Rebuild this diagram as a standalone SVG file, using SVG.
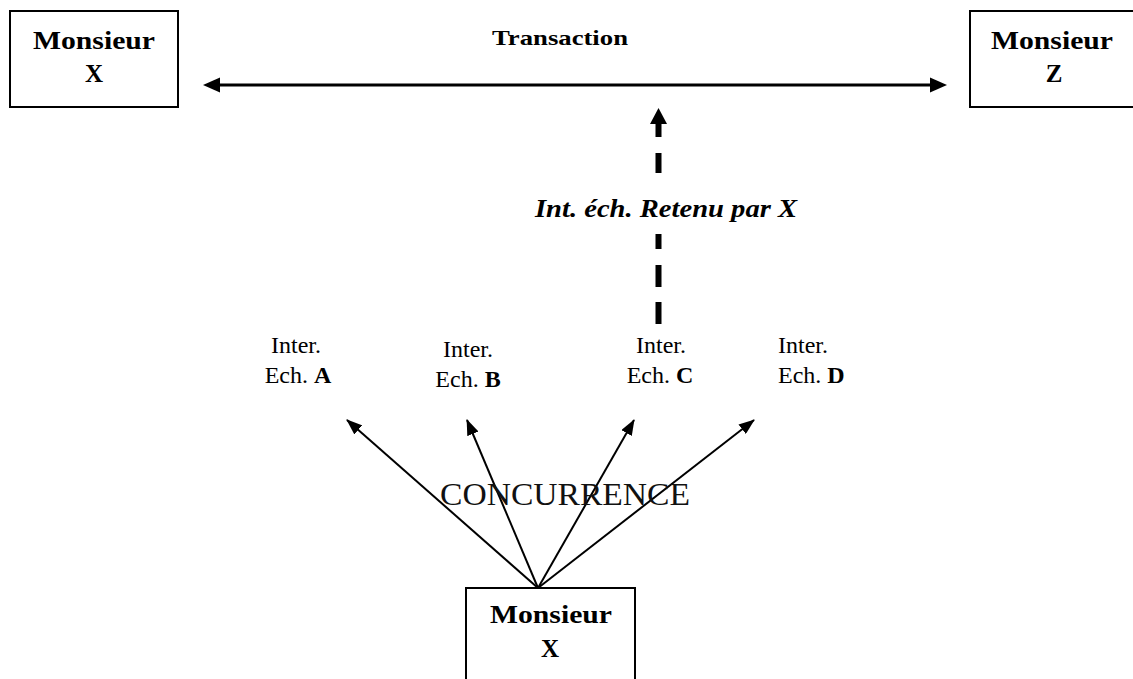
<svg xmlns="http://www.w3.org/2000/svg" width="1133" height="679" viewBox="0 0 1133 679">
<style>
.box{fill:#fff;stroke:#000;stroke-width:2}
.bt{font-family:"Liberation Serif",serif;font-weight:bold;font-size:25px;text-anchor:middle;fill:#000}
.lbl{font-family:"Liberation Serif",serif;font-size:24px;text-anchor:middle;fill:#000}
.conn{stroke:#000;fill:none}
.head{fill:#000}
</style>
<defs>
<marker id="ah" viewBox="0 0 16 12" refX="15" refY="6" markerWidth="16" markerHeight="12" markerUnits="userSpaceOnUse" orient="auto">
<path d="M0,0 L16,6 L0,12 Z" fill="#000"/>
</marker>
</defs>
<rect width="1133" height="679" fill="#fff"/>

<g id="connectors">
<g id="transaction-arrow">
<line class="conn" x1="218" y1="85" x2="932" y2="85" stroke-width="3"/>
<polygon class="head" points="203,85 220,77.5 220,92.5"/>
<polygon class="head" points="947,85 930,77.5 930,92.5"/>
</g>
<g id="dashed-arrow" class="head">
<polygon points="658.5,108 667,124 650,124"/>
<rect x="655.5" y="123" width="6" height="14"/>
<rect x="655.5" y="153" width="6" height="20"/>
<rect x="655.5" y="234" width="6" height="15"/>
<rect x="655.5" y="265" width="6" height="22"/>
<rect x="655.5" y="302" width="6" height="22"/>
</g>
<line class="conn" x1="538" y1="588" x2="347" y2="420" stroke-width="2" marker-end="url(#ah)"/>
<line class="conn" x1="538" y1="588" x2="467" y2="420" stroke-width="2" marker-end="url(#ah)"/>
<line class="conn" x1="538" y1="588" x2="634" y2="420" stroke-width="2" marker-end="url(#ah)"/>
<line class="conn" x1="538" y1="588" x2="754" y2="420" stroke-width="2" marker-end="url(#ah)"/>
</g>

<g id="monsieur-x-top">
<rect class="box" x="10" y="11" width="168" height="96"/>
<text class="bt" x="94" y="49" textLength="122" lengthAdjust="spacingAndGlyphs">Monsieur</text>
<text class="bt" x="94" y="82">X</text>
</g>

<g id="monsieur-z">
<rect class="box" x="970" y="11" width="175" height="96"/>
<text class="bt" x="1052" y="49" textLength="122" lengthAdjust="spacingAndGlyphs">Monsieur</text>
<text class="bt" x="1054" y="82">Z</text>
</g>

<g id="transaction-label">
<text class="bt" x="560" y="45" style="font-size:21px" textLength="136" lengthAdjust="spacingAndGlyphs">Transaction</text>
</g>

<g id="retenu-label">
<text class="bt" x="666" y="217" style="font-size:25px;font-style:italic" textLength="262" lengthAdjust="spacingAndGlyphs">Int. éch. Retenu par X</text>
</g>

<g id="inter-a">
<text class="lbl" x="296" y="353">Inter.</text>
<text class="lbl" x="298" y="383">Ech. <tspan font-weight="bold">A</tspan></text>
</g>
<g id="inter-b">
<text class="lbl" x="468" y="357">Inter.</text>
<text class="lbl" x="468" y="387">Ech. <tspan font-weight="bold">B</tspan></text>
</g>
<g id="inter-c">
<text class="lbl" x="661" y="353">Inter.</text>
<text class="lbl" x="660" y="383">Ech. <tspan font-weight="bold">C</tspan></text>
</g>
<g id="inter-d">
<text class="lbl" x="778" y="353" style="text-anchor:start">Inter.</text>
<text class="lbl" x="778" y="383" style="text-anchor:start">Ech. <tspan font-weight="bold">D</tspan></text>
</g>

<g id="concurrence-label">
<text x="440" y="505" font-family="Liberation Serif, serif" font-size="32" fill="#111" textLength="250" lengthAdjust="spacingAndGlyphs">CONCURRENCE</text>
</g>

<g id="monsieur-x-bottom">
<rect class="box" x="466" y="588" width="169" height="100"/>
<text class="bt" x="551" y="623" textLength="122" lengthAdjust="spacingAndGlyphs">Monsieur</text>
<text class="bt" x="550" y="657">X</text>
</g>
</svg>
